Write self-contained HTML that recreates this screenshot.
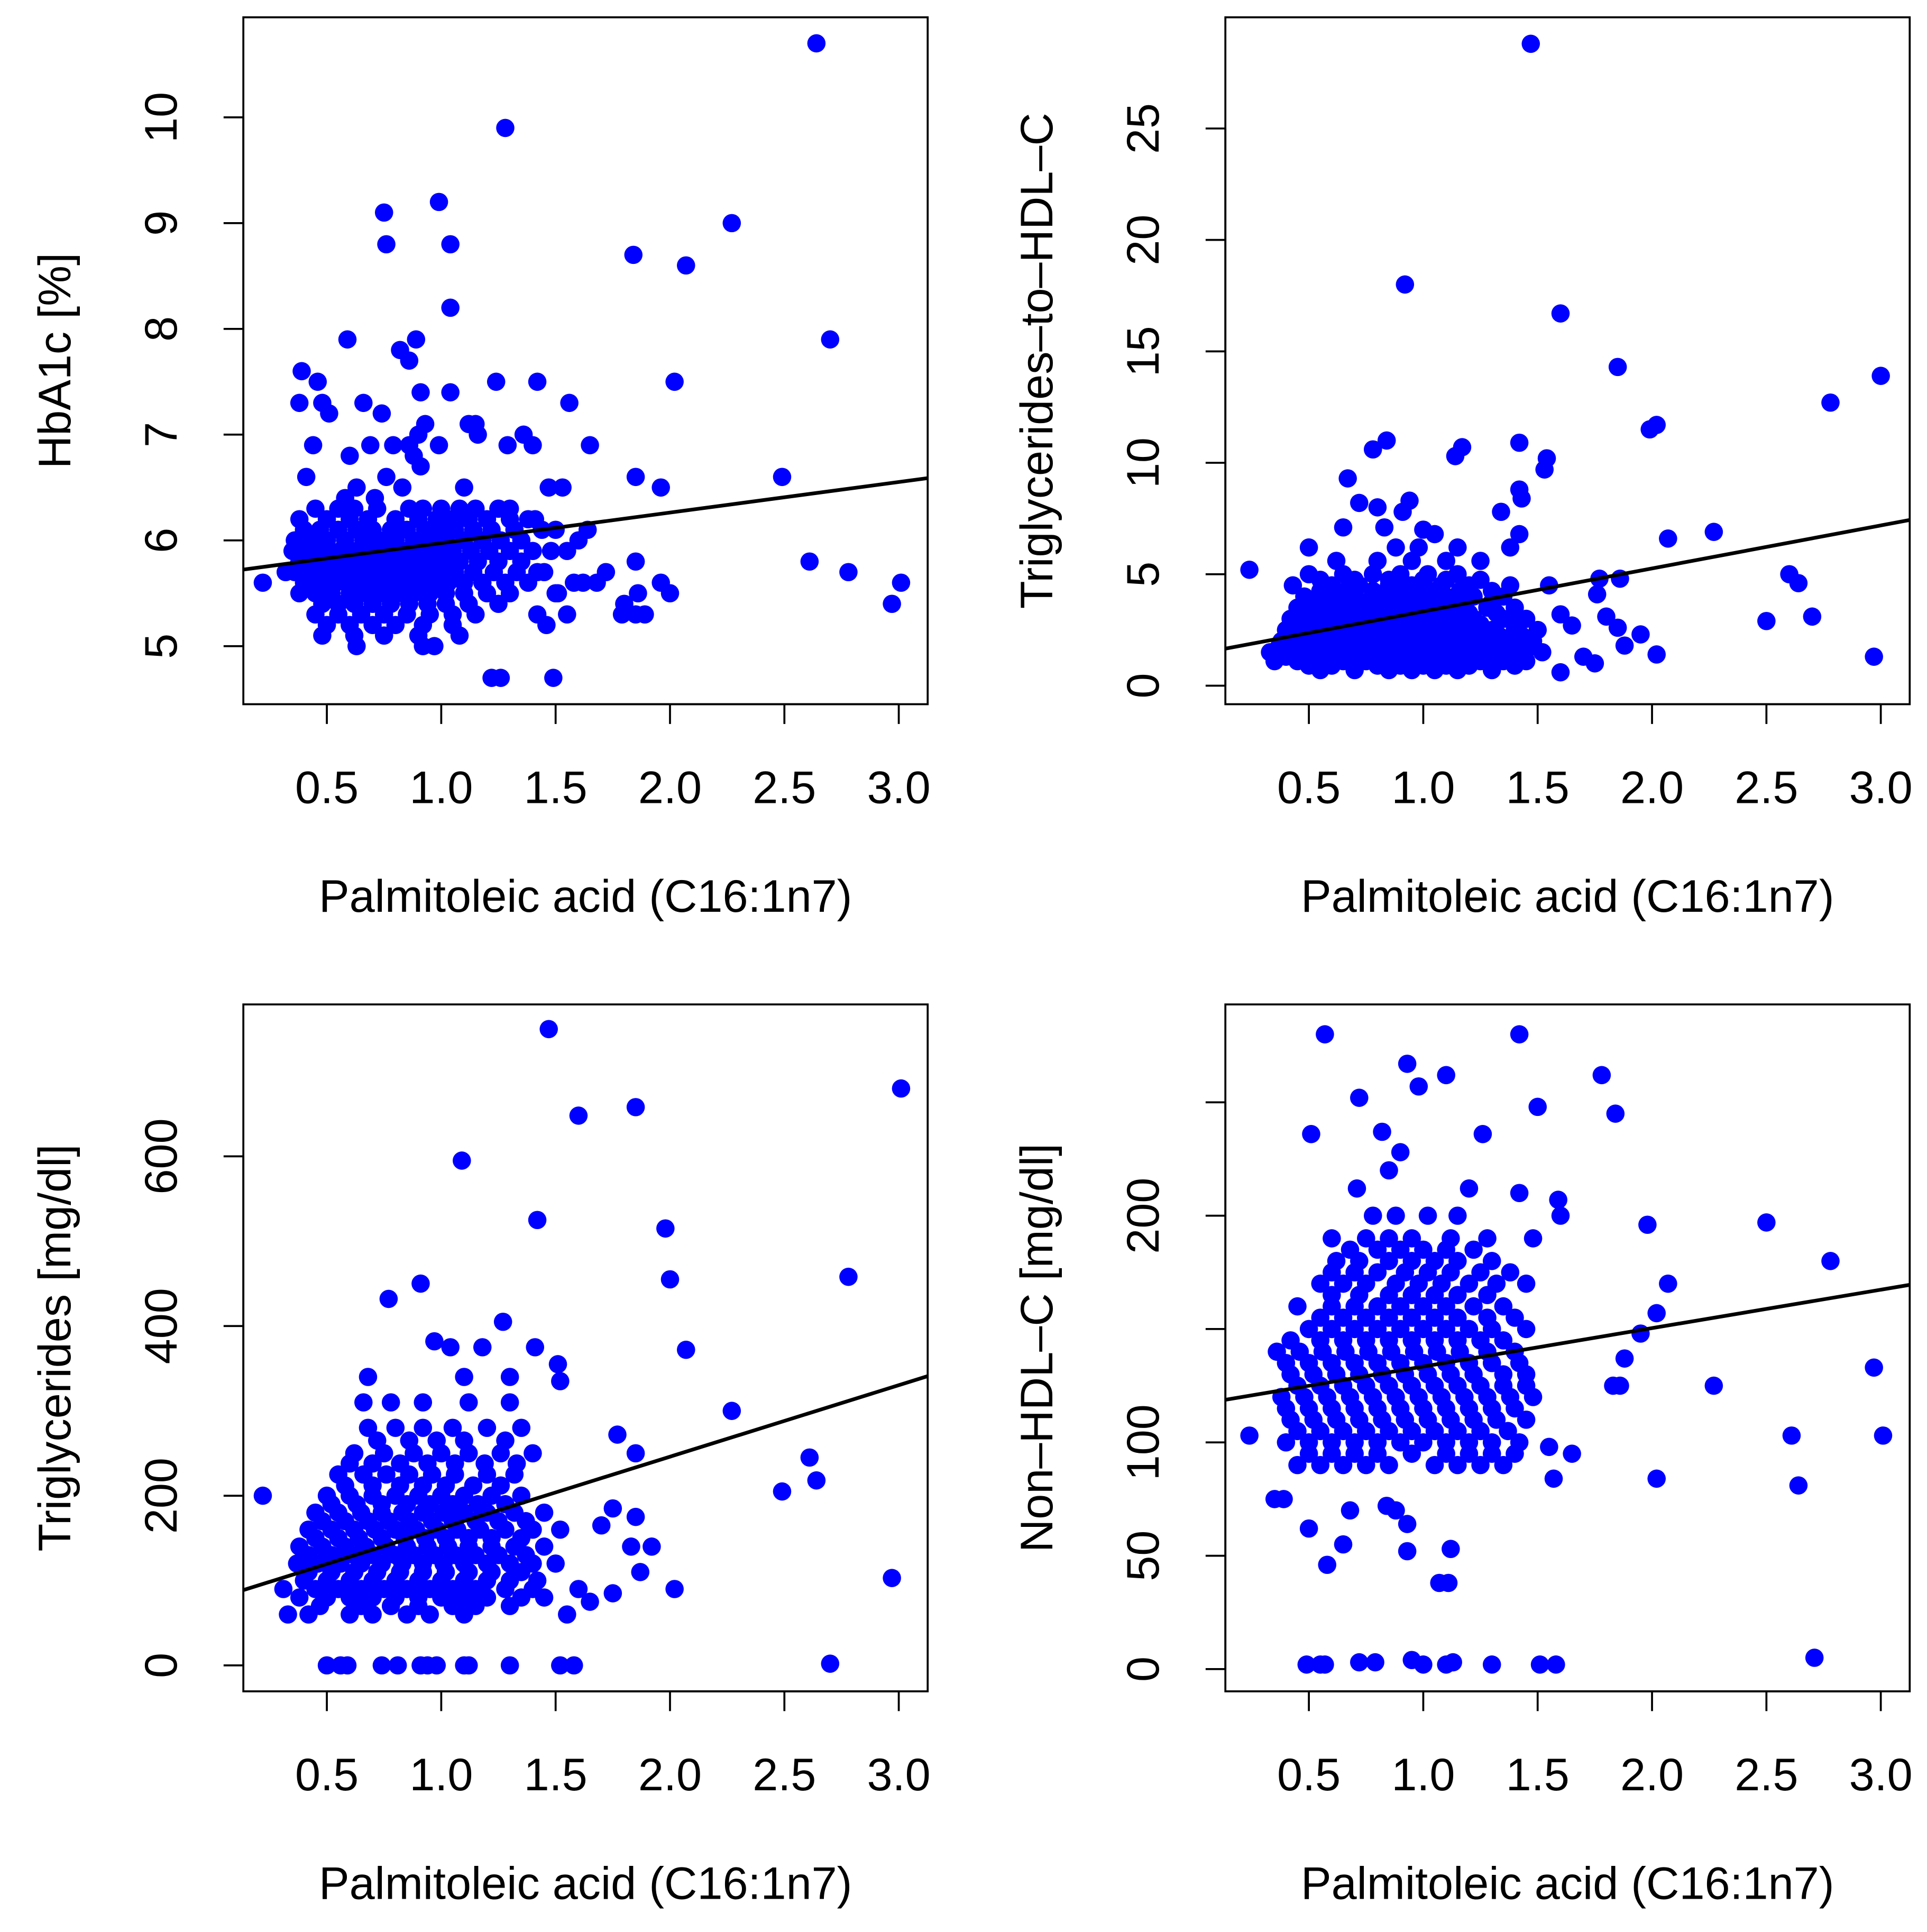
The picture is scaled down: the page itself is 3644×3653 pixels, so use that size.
<!DOCTYPE html>
<html><head><meta charset="utf-8"><style>html,body{margin:0;padding:0;background:#fff}svg{display:block}</style></head>
<body>
<svg id="chart" xmlns="http://www.w3.org/2000/svg" width="3644" height="3653" viewBox="0 0 1560 1563.8" preserveAspectRatio="none" font-family="'Liberation Sans', Arial, sans-serif"></svg>
<script>
// ---- data ----
const xTicks = [0.5, 1.0, 1.5, 2.0, 2.5, 3.0];
const xTickLabels = ["0.5", "1.0", "1.5", "2.0", "2.5", "3.0"];
const xTitle = "Palmitoleic acid (C16:1n7)";

const hbaTicks = [5, 6, 7, 8, 9, 10];
const hbaFit = [5.685, 0.289];
const hbaOut = [[2.64,10.7],[1.28,9.9],[0.75,9.1],[0.99,9.2],[0.76,8.8],[1.04,8.8],[2.27,9.0],[1.84,8.7],[2.07,8.6],[1.04,8.2],[0.59,7.9],[2.70,7.9],[0.89,7.9],[0.82,7.8],[0.86,7.7],[0.39,7.6],[0.46,7.5],[1.24,7.5],[1.42,7.5],[2.02,7.5],[0.38,7.3],[0.48,7.3],[0.66,7.3],[1.56,7.3],[0.51,7.2],[0.74,7.2],[0.91,7.4],[1.04,7.4],[1.12,7.1],[1.15,7.1],[0.93,7.1],[0.90,7.0],[1.36,7.0],[1.40,6.9],[1.16,7.0],[0.44,6.9],[0.69,6.9],[0.79,6.9],[0.86,6.9],[0.99,6.9],[1.29,6.9],[1.65,6.9],[0.60,6.8],[0.88,6.8],[0.91,6.7],[0.76,6.6],[0.41,6.6],[1.85,6.6],[2.49,6.6],[0.83,6.5],[1.1,6.5],[1.47,6.5],[1.53,6.5],[1.96,6.5],[0.58,6.4],[0.63,6.5],[0.71,6.4],[2.61,5.8],[2.78,5.7],[3.01,5.6],[2.97,5.4],[1.22,4.7],[1.26,4.7],[1.49,4.7],[0.22,5.6],[0.32,5.7],[1.85,5.8],[1.96,5.6],[2.0,5.5],[1.86,5.5],[1.85,5.3],[1.79,5.3],[1.89,5.3],[1.8,5.4],[1.72,5.7],[1.62,5.6],[1.68,5.6],[1.58,5.6],[1.55,5.3],[1.51,5.5],[1.46,5.2],[1.42,5.3],[1.6,6.0],[1.64,6.1],[1.5,6.1],[1.55,5.9],[1.41,6.2],[1.3,6.3],[1.25,6.3],[1.5,5.5],[1.45,5.7]];
const hbaRows = [
 [6.3,[0.45,0.55,0.62,0.72,0.86,0.92,1.0,1.08,1.15,1.25]],
 [6.2,[0.38,0.5,0.6,0.68,0.8,0.9,0.98,1.05,1.12,1.2,1.3,1.38]],
 [6.1,[0.4,0.47,0.55,0.63,0.7,0.78,0.85,0.93,1.0,1.06,1.14,1.22,1.32,1.44]],
 [6.0,[0.36,0.43,0.5,0.58,0.66,0.73,0.8,0.88,0.95,1.02,1.1,1.18,1.26,1.35]],
 [5.9,[0.35,0.42,0.49,0.56,0.63,0.7,0.77,0.84,0.91,0.98,1.05,1.13,1.21,1.3,1.4,1.48]],
 [5.8,[0.38,0.45,0.52,0.59,0.66,0.73,0.8,0.87,0.94,1.01,1.08,1.16,1.25,1.35]],
 [5.7,[0.36,0.43,0.5,0.57,0.64,0.71,0.78,0.85,0.92,0.99,1.06,1.14,1.23,1.33,1.42]],
 [5.6,[0.4,0.47,0.54,0.61,0.68,0.75,0.82,0.89,0.96,1.03,1.1,1.18,1.28,1.38]],
 [5.5,[0.38,0.45,0.52,0.6,0.67,0.74,0.81,0.88,0.95,1.02,1.1,1.2,1.3]],
 [5.4,[0.48,0.55,0.62,0.7,0.78,0.86,0.94,1.02,1.12,1.25]],
 [5.3,[0.45,0.55,0.65,0.75,0.85,0.95,1.05,1.15]],
 [5.2,[0.5,0.6,0.7,0.8,0.92,1.05]],
 [5.1,[0.48,0.62,0.75,0.9,1.08]],
 [5.0,[0.63,0.92,0.97]]];

const tghTicks = [0, 5, 10, 15, 20, 25];
const tghFit = [1.40, 1.93];
const tghOut = [[1.47,28.8],[0.92,18.0],[1.6,16.7],[1.85,14.3],[3.0,13.9],[2.78,12.7],[1.99,11.5],[2.02,11.7],[0.84,11.0],[0.78,10.6],[1.14,10.3],[1.17,10.7],[1.42,10.9],[1.54,10.2],[1.53,9.7],[0.67,9.3],[1.42,8.8],[1.43,8.4],[0.94,8.3],[0.91,7.8],[1.34,7.8],[0.72,8.2],[0.80,8.0],[1.0,7.0],[1.05,6.8],[2.07,6.6],[2.27,6.9],[1.42,6.8],[0.65,7.1],[0.83,7.1],[0.24,5.2],[2.6,5.0],[2.64,4.6],[2.7,3.1],[2.5,2.9],[2.97,1.3],[2.02,1.4],[1.95,2.3],[1.88,1.8],[1.85,2.6],[1.8,3.1],[1.76,4.1],[1.77,4.8],[1.86,4.8],[1.75,1.0],[1.6,0.6],[1.7,1.3],[1.65,2.7],[1.6,3.2],[1.55,4.5],[1.3,1.1]];
const tghRows = [
 [0.7,[0.55,0.7,0.85,0.95,1.05,1.15,1.3]],
 [0.9,[0.5,0.6,0.8,0.9,1.0,1.1,1.2,1.4]],
 [1.1,[0.35,0.45,0.55,0.65,0.75,0.85,0.95,1.05,1.15,1.25,1.35,1.45]],
 [1.3,[0.4,0.5,0.6,0.7,0.8,0.9,1.0,1.1,1.2,1.3,1.4]],
 [1.5,[0.33,0.42,0.52,0.62,0.72,0.82,0.92,1.02,1.12,1.22,1.32,1.42,1.52]],
 [1.75,[0.37,0.47,0.57,0.67,0.77,0.87,0.97,1.07,1.17,1.27,1.37,1.47]],
 [2.0,[0.38,0.48,0.58,0.68,0.78,0.88,0.98,1.08,1.18,1.28,1.38,1.48]],
 [2.25,[0.43,0.53,0.63,0.73,0.83,0.93,1.03,1.13,1.23,1.33,1.43]],
 [2.5,[0.4,0.5,0.6,0.7,0.8,0.9,1.0,1.1,1.2,1.3,1.4,1.5]],
 [2.75,[0.45,0.55,0.65,0.75,0.85,0.95,1.05,1.15,1.25,1.4]],
 [3.0,[0.42,0.52,0.62,0.72,0.82,0.92,1.02,1.12,1.22,1.35,1.45]],
 [3.25,[0.5,0.6,0.7,0.8,0.9,1.0,1.1,1.2,1.32]],
 [3.5,[0.45,0.55,0.65,0.75,0.85,0.95,1.05,1.15,1.28,1.4]],
 [3.75,[0.52,0.65,0.75,0.85,0.95,1.05,1.15,1.3]],
 [4.0,[0.48,0.6,0.7,0.8,0.9,1.0,1.1,1.22,1.35]],
 [4.25,[0.55,0.66,0.78,0.9,1.05,1.16,1.3]],
 [4.5,[0.43,0.6,0.72,0.85,0.95,1.08,1.2,1.38]],
 [4.75,[0.55,0.7,0.85,1.0,1.1,1.25]],
 [5.0,[0.5,0.65,0.78,0.9,1.02,1.15]],
 [5.6,[0.62,0.8,0.95,1.1,1.25]],
 [6.2,[0.5,0.88,0.98,1.15,1.38]]];

const tgTicks = [0, 200, 400, 600];
const tgFit = [77.4, 84.3];
const tgOut = [[1.47,750],[3.01,680],[1.85,658],[1.6,648],[1.09,595],[1.42,525],[1.98,515],[2.0,455],[2.78,458],[0.91,450],[0.77,432],[2.07,372],[1.27,405],[0.97,382],[1.04,375],[1.18,375],[1.41,375],[1.51,355],[1.52,335],[2.27,300],[1.77,272],[1.85,250],[2.61,245],[2.64,218],[2.49,205],[2.97,103],[2.02,90],[1.92,140],[1.87,110],[1.83,140],[1.85,175],[1.75,185],[1.7,165],[1.65,75],[1.75,85],[1.6,90],[1.55,60],[0.22,200],[0.31,90],[0.33,60],[0.5,0],[0.56,0],[0.59,0],[0.74,0],[0.81,0],[0.91,0],[0.94,0],[0.98,0],[1.1,0],[1.12,0],[1.3,0],[1.52,0],[1.58,0],[2.7,2]];
const tgRows = [
 [60,[0.42,0.6,0.7,0.85,0.95,1.1]],
 [70,[0.47,0.65,0.78,0.9,1.05,1.15,1.3]],
 [80,[0.38,0.5,0.6,0.7,0.8,0.9,1.0,1.1,1.2,1.35,1.45]],
 [90,[0.45,0.55,0.65,0.75,0.85,0.95,1.05,1.15,1.28,1.4]],
 [100,[0.4,0.5,0.6,0.7,0.8,0.9,1.0,1.1,1.2,1.3,1.42]],
 [110,[0.42,0.52,0.62,0.72,0.82,0.92,1.02,1.12,1.22,1.35]],
 [120,[0.37,0.46,0.56,0.65,0.74,0.83,0.92,1.01,1.1,1.2,1.3,1.4,1.5]],
 [130,[0.42,0.52,0.62,0.7,0.8,0.88,0.97,1.06,1.15,1.25,1.37]],
 [140,[0.38,0.48,0.58,0.67,0.76,0.85,0.94,1.03,1.12,1.22,1.32,1.45]],
 [150,[0.45,0.55,0.64,0.74,0.84,0.93,1.02,1.12,1.22,1.35]],
 [160,[0.42,0.52,0.62,0.71,0.8,0.89,0.98,1.07,1.17,1.28,1.4,1.52]],
 [170,[0.48,0.58,0.68,0.77,0.86,0.96,1.05,1.15,1.25,1.37]],
 [180,[0.45,0.55,0.65,0.74,0.83,0.92,1.01,1.1,1.2,1.32,1.45]],
 [190,[0.52,0.63,0.74,0.85,0.95,1.05,1.16,1.28]],
 [200,[0.5,0.6,0.7,0.8,0.9,1.0,1.1,1.22,1.35]],
 [212,[0.58,0.7,0.82,0.92,1.02,1.14,1.26]],
 [225,[0.55,0.66,0.76,0.86,0.96,1.06,1.2,1.32]],
 [238,[0.6,0.7,0.82,0.94,1.06,1.19,1.33]],
 [250,[0.62,0.75,0.88,1.0,1.12,1.26,1.4]],
 [265,[0.72,0.86,0.98,1.1,1.28]],
 [280,[0.68,0.8,0.92,1.05,1.2,1.35]],
 [310,[0.66,0.78,0.92,1.12,1.3]],
 [340,[0.68,1.1,1.3]]];

const nhTicks = [0, 50, 100, 150, 200, 250];
const nhTickLabels = ["0", "50", "100", "", "200", ""];
const nhFit = [116.5, 16.95];
const nhOut = [[0.57,280],[1.42,280],[1.78,262],[0.93,267],[1.1,262],[0.98,257],[0.72,252],[1.5,248],[1.84,245],[0.51,236],[0.82,237],[1.26,236],[0.9,228],[0.85,220],[0.71,212],[1.2,212],[1.42,210],[1.59,207],[2.5,197],[2.78,180],[1.98,196],[2.07,170],[2.02,157],[1.95,148],[1.88,137],[1.83,125],[1.86,125],[2.27,125],[2.97,133],[3.01,103],[2.61,103],[2.64,81],[2.02,84],[1.65,95],[1.57,84],[1.55,98],[0.24,103],[0.35,75],[0.39,75],[0.5,62],[0.58,46],[0.65,55],[0.68,70],[0.84,72],[0.88,70],[0.93,52],[0.93,64],[1.07,38],[1.11,38],[1.12,53],[0.49,2],[0.55,2],[0.57,2],[0.72,3],[0.79,3],[0.95,4],[1.0,2],[1.1,2],[1.13,3],[1.3,2],[1.51,2],[1.58,2],[2.71,5]];
const nhRows = [
 [90,[0.45,0.55,0.65,0.75,0.85,1.05,1.15,1.25,1.35]],
 [95,[0.5,0.6,0.7,0.8,0.95,1.1,1.2,1.3,1.4]],
 [100,[0.4,0.5,0.6,0.7,0.8,0.9,1.0,1.1,1.2,1.3,1.42]],
 [105,[0.45,0.55,0.65,0.75,0.85,0.95,1.05,1.15,1.25,1.37]],
 [110,[0.42,0.52,0.62,0.72,0.82,0.92,1.02,1.12,1.22,1.32,1.45]],
 [115,[0.4,0.5,0.6,0.7,0.8,0.9,1.0,1.1,1.2,1.3,1.4]],
 [120,[0.38,0.48,0.58,0.68,0.78,0.88,0.98,1.08,1.18,1.28,1.38,1.48]],
 [125,[0.45,0.55,0.65,0.75,0.85,0.95,1.05,1.15,1.25,1.35,1.45]],
 [130,[0.42,0.52,0.62,0.72,0.82,0.92,1.02,1.12,1.22,1.35,1.45]],
 [135,[0.4,0.5,0.6,0.7,0.8,0.9,1.0,1.1,1.2,1.3,1.42]],
 [140,[0.36,0.46,0.56,0.66,0.76,0.86,0.96,1.06,1.16,1.28,1.4]],
 [145,[0.42,0.55,0.65,0.75,0.85,0.95,1.05,1.15,1.25,1.35]],
 [150,[0.5,0.6,0.7,0.8,0.9,1.0,1.1,1.2,1.3,1.45]],
 [155,[0.55,0.65,0.75,0.85,0.95,1.05,1.15,1.28,1.4]],
 [160,[0.45,0.6,0.7,0.8,0.9,1.0,1.1,1.22,1.35]],
 [165,[0.6,0.72,0.85,0.95,1.05,1.15,1.28]],
 [170,[0.55,0.65,0.75,0.88,0.98,1.08,1.2,1.32,1.45]],
 [175,[0.6,0.7,0.8,0.92,1.02,1.12,1.25,1.38]],
 [180,[0.62,0.72,0.85,0.95,1.05,1.15,1.3]],
 [185,[0.68,0.8,0.9,1.0,1.1,1.22]],
 [190,[0.6,0.75,0.85,0.95,1.12,1.28,1.48]],
 [200,[0.78,0.88,1.02,1.15,1.6]]];

// ---- drawing ----
const NS = "http://www.w3.org/2000/svg";
const svg = document.getElementById("chart");
function mk(tag, attrs, parent) {
  const e = document.createElementNS(NS, tag);
  for (const k in attrs) e.setAttribute(k, attrs[k]);
  (parent || svg).appendChild(e);
  return e;
}
const FS = 37;
function panel(cfg) {
  const g = mk("g", {});
  
  
  const L = cfg.left, R = L + 554, T = cfg.top, B = T + 556;
  const sx = v => cfg.x0px + v * 185.2;
  const sy = v => cfg.y0px - (v - cfg.y0) * cfg.ky;
  const frame = mk("rect", {x:L, y:T, width:R-L, height:B-T, fill:"none", stroke:"#000", "stroke-width":1.6}, g);
  
  
  const xa = mk("g", {}, g);
  
  
  mk("line", {x1:sx(xTicks[0]), x2:sx(xTicks[xTicks.length-1]), y1:B, y2:B, stroke:"#000", "stroke-width":1.6}, xa);
  xTicks.forEach((v,i) => {
    mk("line", {x1:sx(v), x2:sx(v), y1:B, y2:B+16, stroke:"#000", "stroke-width":1.6}, xa);
    const t = mk("text", {x:sx(v), y:B+80, "text-anchor":"middle", "font-size":FS}, xa);
    t.textContent = xTickLabels[i];
    
    
  });
  const xt = mk("text", {x:(L+R)/2, y:B+168, "text-anchor":"middle", "font-size":FS}, g);
  xt.textContent = xTitle;
  
  
  const ya = mk("g", {}, g);
  
  
  const yt0 = cfg.yTicks[0], yt1 = cfg.yTicks[cfg.yTicks.length-1];
  mk("line", {x1:L, x2:L, y1:sy(yt0), y2:sy(yt1), stroke:"#000", "stroke-width":1.6}, ya);
  cfg.yTicks.forEach((v,i) => {
    mk("line", {x1:L-16, x2:L, y1:sy(v), y2:sy(v), stroke:"#000", "stroke-width":1.6}, ya);
    const lab = cfg.yLabels ? cfg.yLabels[i] : String(v);
    if (!lab) return;
    const tx = L - 54;
    const t = mk("text", {x:tx, y:sy(v), "text-anchor":"middle", "font-size":FS, transform:`rotate(-90 ${tx} ${sy(v)})`}, ya);
    t.textContent = lab;
    
    
  });
  const tyx = L - 140, tyy = (T+B)/2;
  const yt = mk("text", {x:tyx, y:tyy, "text-anchor":"middle", "font-size":FS, transform:`rotate(-90 ${tyx} ${tyy})`}, g);
  yt.textContent = cfg.yTitle;
  
  
  const pts = mk("g", {fill:"#0000ff"}, g);
  
  
  const all = cfg.out.slice();
  cfg.rows.forEach(r => r[1].forEach(x => all.push([x, r[0]])));
  all.forEach(p => {
    const c = mk("circle", {cx:sx(p[0]), cy:sy(p[1]), r:7.4}, pts);
    
    
  });
  const xl = (L - cfg.x0px)/185.2, xr = (R - cfg.x0px)/185.2;
  const fl = mk("line", {x1:L, x2:R, y1:sy(cfg.fit[0]+cfg.fit[1]*xl), y2:sy(cfg.fit[0]+cfg.fit[1]*xr), stroke:"#000", "stroke-width":3}, g);
  
  
}
panel({name:"hba1c-panel", left:197, top:14, x0px:172, y0:5, y0px:523, ky:85.6, yTicks:hbaTicks, yTitle:"HbA1c [%]", out:hbaOut, rows:hbaRows, fit:hbaFit});
panel({name:"tg-hdl-ratio-panel", left:992, top:14, x0px:967, y0:0, y0px:555, ky:18.04, yTicks:tghTicks, yTitle:"Triglycerides\u2013to\u2013HDL\u2013C", out:tghOut, rows:tghRows, fit:tghFit});
panel({name:"triglycerides-panel", left:197, top:813, x0px:172, y0:0, y0px:1348, ky:0.6867, yTicks:tgTicks, yTitle:"Triglycerides [mg/dl]", out:tgOut, rows:tgRows, fit:tgFit});
panel({name:"non-hdl-panel", left:992, top:813, x0px:967, y0:0, y0px:1351, ky:1.835, yTicks:nhTicks, yLabels:nhTickLabels, yTitle:"Non\u2013HDL\u2013C [mg/dl]", out:nhOut, rows:nhRows, fit:nhFit});
</script>
</body></html>
